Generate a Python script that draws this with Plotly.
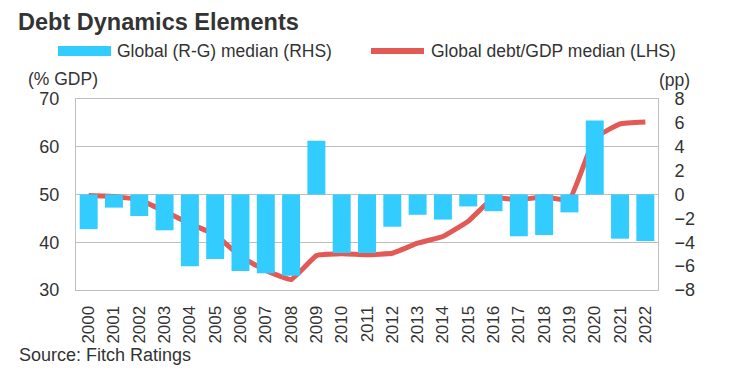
import plotly.graph_objects as go

years = [str(y) for y in range(2000, 2023)]
rg_median = [-2.9, -1.1, -1.8, -3.0, -6.0, -5.4, -6.4, -6.6, -6.8, 4.5, -4.9, -4.9,
             -2.7, -1.7, -2.1, -1.0, -1.4, -3.5, -3.4, -1.5, 6.2, -3.7, -3.9]
debt_gdp = [49.8, 49.6, 48.9, 46.5, 43.9, 41.6, 37.0, 34.1, 32.2, 37.2, 37.6, 37.4,
            37.7, 39.8, 41.2, 44.4, 49.3, 48.9, 49.5, 48.9, 61.8, 64.8, 65.2]

BLUE = "#33CCFF"
RED = "#E25A56"
FONT = "Liberation Sans"
TXT = "#333333"

W, H = 737, 382
OFF = 8  # page body margin
L, R, T, B = 76 - OFF, 87, 99 - OFF, 100

fig = go.Figure()
fig.add_trace(go.Bar(x=years, y=rg_median, yaxis="y2", marker_color=BLUE,
                     marker_line_width=0, name="Global (R-G) median (RHS)"))
fig.add_trace(go.Scatter(x=years, y=debt_gdp, yaxis="y", mode="lines",
                         line=dict(color=RED, width=5, shape="spline", smoothing=0.3),
                         name="Global debt/GDP median (LHS)"))

fig.update_layout(
    width=W, height=H,
    margin=dict(l=L, r=R, t=T, b=B, autoexpand=False),
    paper_bgcolor="white", plot_bgcolor="white",
    showlegend=False,
    bargap=0.29,
    font=dict(family=FONT, size=16, color=TXT),
    xaxis=dict(type="category", tickangle=-90, tickfont=dict(size=17, color=TXT),
               showline=True, linecolor="#BFBFBF", mirror=True, ticks="", showgrid=False,
               ticklabelstandoff=8),
    yaxis=dict(range=[30, 70], dtick=10, showgrid=True, gridcolor="#BFBFBF",
               showline=True, linecolor="#BFBFBF", ticks="", zeroline=False,
               tickfont=dict(size=18, color=TXT), ticklabelstandoff=12),
    yaxis2=dict(range=[-8, 8], dtick=2, overlaying="y", side="right", showgrid=False,
                zeroline=False, ticks="", tickfont=dict(size=18, color=TXT),
                showline=True, linecolor="#BFBFBF", ticklabelstandoff=12),
)

def px(xs):
    return (xs - OFF - L) / (W - L - R)

def py(ys):
    return (H - B - (ys - OFF)) / (H - T - B)

# title kept fully inside the figure
fig.add_annotation(text="<b>Debt Dynamics Elements</b>", xref="paper", yref="paper",
                   x=px(17), y=py(OFF), xanchor="left", yanchor="top", showarrow=False,
                   borderpad=0, font=dict(family=FONT, size=23.5, color=TXT))

annots = [
    dict(text="Global (R-G) median (RHS)", x=115, y=51, size=17.5),
    dict(text="Global debt/GDP median (LHS)", x=429, y=51, size=17.5),
    dict(text="(% GDP)", x=26, y=79, size=17.5),
    dict(text="(pp)", x=657, y=80, size=17.5),
    dict(text="Source: Fitch Ratings", x=17, y=355, size=18),
]
for a in annots:
    fig.add_annotation(text=a["text"], xref="paper", yref="paper",
                       x=px(a["x"]), y=py(a["y"]),
                       xanchor="left", yanchor="middle", showarrow=False,
                       font=dict(family=FONT, size=a["size"], color=TXT))

fig.add_shape(type="rect", xref="paper", yref="paper", x0=px(58), x1=px(111), y0=py(46), y1=py(56),
              fillcolor=BLUE, line_width=0)
fig.add_shape(type="line", xref="paper", yref="paper", x0=px(371), x1=px(424), y0=py(51), y1=py(51),
              line=dict(color=RED, width=6))

fig.write_html("out.html")
